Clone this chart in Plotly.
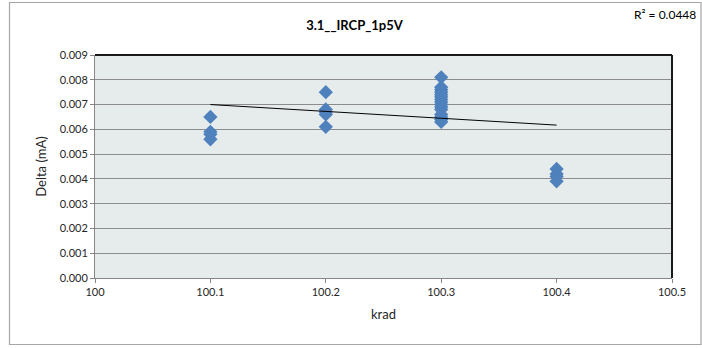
import plotly.graph_objects as go

# ---- data ----
krad_x = [100.1, 100.1, 100.1, 100.1,
          100.2, 100.2, 100.2, 100.2, 100.2,
          100.3, 100.3, 100.3, 100.3, 100.3, 100.3, 100.3, 100.3,
          100.3, 100.3, 100.3, 100.3, 100.3, 100.3, 100.3,
          100.4, 100.4, 100.4, 100.4]
delta_ma = [0.0065, 0.0059, 0.0058, 0.0056,
            0.0075, 0.0068, 0.0067, 0.0066, 0.0061,
            0.0081, 0.0077, 0.0076, 0.0075, 0.0074, 0.0073, 0.0072, 0.0071,
            0.0070, 0.0069, 0.0068, 0.0066, 0.0065, 0.0064, 0.0063,
            0.0044, 0.0042, 0.0041, 0.0039]

trend_x = [100.1, 100.4]
trend_y = [0.00700, 0.00617]

x_ticks = [100, 100.1, 100.2, 100.3, 100.4, 100.5]
x_tick_text = ["100", "100.1", "100.2", "100.3", "100.4", "100.5"]
y_ticks = [0.000, 0.001, 0.002, 0.003, 0.004, 0.005, 0.006, 0.007, 0.008, 0.009]

title_text = "3.1__IRCP_1p5V"
r2_text = "R² = 0.0448"

FONT = "Lato, Open Sans, sans-serif"
W, H = 702, 348
L, R, T, B = 95, 30, 55, 70

fig = go.Figure()
fig.add_trace(go.Scatter(
    x=krad_x, y=delta_ma, mode="markers",
    marker=dict(symbol="diamond", size=11, color="#4F81BD",
                line=dict(width=0)),
    showlegend=False, hoverinfo="x+y"))
fig.add_trace(go.Scatter(
    x=trend_x, y=trend_y, mode="lines",
    line=dict(color="#000000", width=1),
    showlegend=False, hoverinfo="skip"))

fig.update_layout(
    width=W, height=H,
    margin=dict(l=L, r=R, t=T, b=B, pad=0),
    paper_bgcolor="white",
    plot_bgcolor="#E6ECEC",
    font=dict(family=FONT, size=11, color="#262626"),
    title=dict(text="<b>" + title_text + "</b>", x=0.505, xanchor="center",
               y=1 - 25 / H, yanchor="middle",
               font=dict(family=FONT, size=13, color="#000000")),
    xaxis=dict(range=[100, 100.5], tickvals=x_ticks, ticktext=x_tick_text,
               showgrid=False, zeroline=False,
               showline=True, linecolor="#868686", linewidth=1,
               ticks="outside", ticklen=4, tickcolor="#868686",
               tickfont=dict(family=FONT, size=11, color="#262626"),
               title=dict(text="krad", standoff=12,
                          font=dict(family=FONT, size=13, color="#262626"))),
    yaxis=dict(range=[0, 0.009], tickvals=y_ticks, tickformat=".3f",
               showgrid=True, gridcolor="#8C8C8C", gridwidth=1,
               zeroline=False,
               showline=True, linecolor="#868686", linewidth=1,
               ticks="outside", ticklen=4, tickcolor="#868686",
               tickfont=dict(family=FONT, size=11, color="#262626"),
               title=dict(text="Delta (mA)", standoff=10,
                          font=dict(family=FONT, size=13, color="#262626"))),
)

# plot-area top and right border (dark)
fig.add_shape(type="line", xref="x domain", yref="y domain",
              x0=0, x1=1, y0=1, y1=1, line=dict(color="#1A1A1A", width=2))
fig.add_shape(type="line", xref="x domain", yref="y domain",
              x0=1, x1=1, y0=0, y1=1, line=dict(color="#1A1A1A", width=2))

# outer chart border
pw = W - L - R
ph = H - T - B
def px_x(p):
    return (p - L) / pw
def px_y(p):
    return (H - B - p) / ph
fig.add_shape(type="rect", xref="paper", yref="paper",
              x0=px_x(9.5), x1=px_x(701), y0=px_y(344.5), y1=px_y(2.5),
              line=dict(color="#A6A6A6", width=1.2), layer="below")

fig.add_annotation(text=r2_text, xref="paper", yref="paper",
                   x=px_x(698), y=px_y(15), xanchor="right", yanchor="middle",
                   showarrow=False,
                   font=dict(family=FONT, size=12, color="#000000"))

fig.write_html("out.html",
               config={"displayModeBar": False},
               post_script="document.body.style.margin='0';"
                           "document.body.style.overflow='hidden';")
